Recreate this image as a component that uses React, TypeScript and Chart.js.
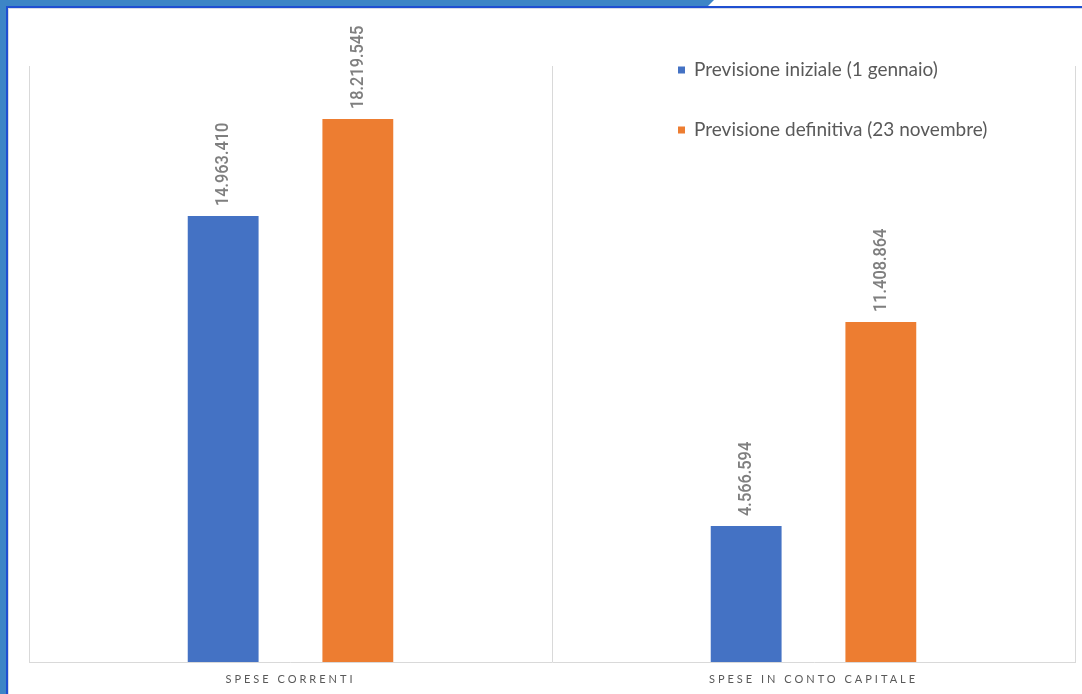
import React, { useEffect, useRef } from "react";
import { Chart, registerables } from "chart.js";

Chart.register(...registerables);

const categories = ["SPESE CORRENTI", "SPESE IN CONTO CAPITALE"];
const seriesNames = ["Previsione iniziale (1 gennaio)", "Previsione definitiva (23 novembre)"];
const previsioneIniziale = [14963410, 4566594];
const previsioneDefinitiva = [18219545, 11408864];
const seriesColors = ["#4472C4", "#ED7D31"];
const yMax = 20000000;

const fmt = (v: number) => String(Math.round(v)).replace(/\B(?=(\d{3})+(?!\d))/g, ".");

const dataLabelPlugin = {
  id: "dataLabels",
  afterDatasetsDraw(chart: any) {
    const ctx = chart.ctx;
    ctx.save();
    ctx.letterSpacing = "0px";
    chart.data.datasets.forEach((ds: any, i: number) => {
      const meta = chart.getDatasetMeta(i);
      meta.data.forEach((el: any, j: number) => {
        const text = fmt(ds.data[j]);
        ctx.save();
        ctx.translate(el.x, el.y - 10);
        ctx.rotate(-Math.PI / 2);
        ctx.scale(0.86, 1);
        ctx.font = "500 19px Roboto";
        ctx.fillStyle = "#7f7f7f";
        ctx.textAlign = "left";
        ctx.textBaseline = "middle";
        ctx.fillText(text, 0, 0);
        ctx.restore();
      });
    });
    ctx.restore();
  },
};

const legendPlugin = {
  id: "customLegend",
  afterDraw(chart: any) {
    const ctx = chart.ctx;
    ctx.save();
    ctx.letterSpacing = "0px";
    chart.data.datasets.forEach((ds: any, i: number) => {
      const y = 70 + i * 60;
      ctx.fillStyle = ds.backgroundColor;
      ctx.fillRect(678, y - 3.5, 7, 7);
      ctx.font = "19px Lato";
      ctx.fillStyle = "#595959";
      ctx.textAlign = "left";
      ctx.textBaseline = "middle";
      ctx.fillText(ds.label, 694, y);
    });
    ctx.restore();
  },
};

const spacingPlugin = {
  id: "letterSpacing",
  beforeDraw(chart: any) {
    chart.ctx.letterSpacing = "3px";
  },
  beforeDatasetsDraw(chart: any) {
    chart.ctx.letterSpacing = "0px";
  },
};

export default function App() {
  const ref = useRef<HTMLCanvasElement | null>(null);
  useEffect(() => {
    if (!ref.current) return;
    const chart = new Chart(ref.current, {
      type: "bar",
      data: {
        labels: categories,
        datasets: [
          {
            label: seriesNames[0],
            data: previsioneIniziale,
            backgroundColor: seriesColors[0],
            categoryPercentage: 0.515,
            barPercentage: 0.526,
          },
          {
            label: seriesNames[1],
            data: previsioneDefinitiva,
            backgroundColor: seriesColors[1],
            categoryPercentage: 0.515,
            barPercentage: 0.526,
          },
        ],
      },
      options: {
        animation: false,
        responsive: true,
        maintainAspectRatio: false,
        layout: { padding: { left: 29, right: 7, top: 66, bottom: 0 } },
        plugins: { legend: { display: false }, tooltip: { enabled: false } },
        scales: {
          x: {
            grid: { color: "#d9d9d9", drawTicks: false, offset: true },
            border: { color: "#d9d9d9" },
            ticks: {
              color: "#595959",
              font: { family: "Lato", size: 11 },
              padding: 11,
            },
            afterFit(scale: any) {
              scale.height = 32;
            },
          },
          y: { display: false, min: 0, max: yMax },
        },
      },
      plugins: [spacingPlugin, dataLabelPlugin, legendPlugin],
    });
    return () => chart.destroy();
  }, []);

  return (
    <div style={{ position: "fixed", left: 0, top: 0, width: 1082, height: 694, background: "#fff", overflow: "hidden" }}>
      <div style={{ position: "absolute", left: 0, top: 0, width: 714, height: 6, background: "#3d85c6", clipPath: "polygon(0 0, 714px 0, 708px 6px, 0 6px)" }} />
      <div style={{ position: "absolute", left: 0, top: 0, width: 6, height: 694, background: "#3d85c6" }} />
      <div style={{ position: "absolute", left: 6, top: 6, width: 1076, height: 2, background: "#1f4fd1" }} />
      <div style={{ position: "absolute", left: 6, top: 6, width: 2, height: 688, background: "#1f4fd1" }} />
      <div style={{ position: "absolute", left: 8, top: 8, width: 1074, height: 1, background: "#d8dbe8" }} />
      <div style={{ position: "absolute", left: 8, top: 8, width: 1, height: 686, background: "#d8dbe8" }} />
      <div style={{ position: "absolute", left: 0, top: 0, width: 1082, height: 694 }}>
        <canvas ref={ref} />
      </div>
    </div>
  );
}
